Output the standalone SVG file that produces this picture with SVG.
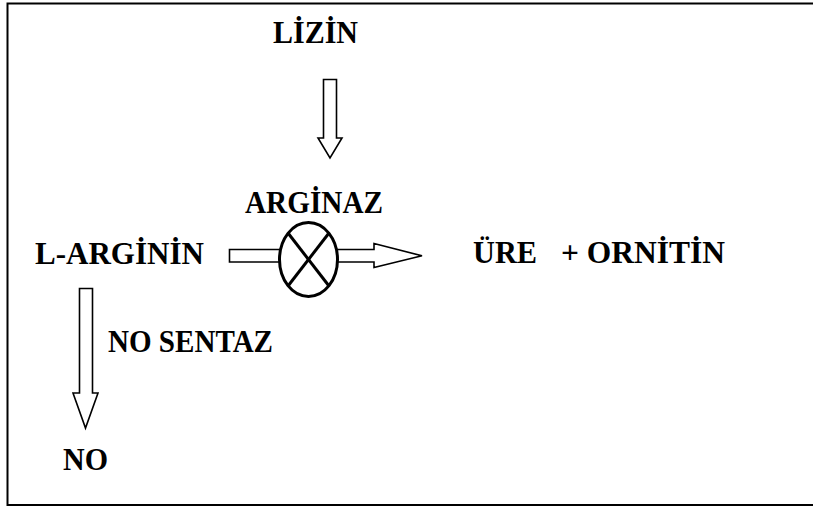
<svg xmlns="http://www.w3.org/2000/svg" width="813" height="508" viewBox="0 0 813 508">
  <style>
    .lbl { font-family: "Liberation Serif", "Times New Roman", serif; font-weight: bold; font-size: 32px; fill: #000; }
    .arrow { fill: #fff; stroke: #000; stroke-width: 1.6; stroke-linejoin: miter; }
    .enz { fill: #fff; stroke: #000; stroke-width: 3; }
  </style>
  <rect width="813" height="508" fill="#fff"/>
  <!-- frame, open past the right edge -->
  <path d="M900,3.5 H7.5 V505 H900" fill="none" stroke="#000" stroke-width="2"/>

  <g id="connectors">
    <!-- lysine down to arginase -->
    <path class="arrow" d="M323.5,79.5 H336.5 V138 H342 L330,158 L318,138 H323.5 Z"/>
    <!-- L-arginine to NO -->
    <path class="arrow" d="M79.5,288.5 H92.5 V393 H98 L85.5,428 L73,393 H79.5 Z"/>
    <!-- L-arginine into arginase -->
    <path class="arrow" d="M229.5,249.5 H282 V262 H229.5 Z"/>
    <!-- arginase out to products -->
    <path class="arrow" d="M335,249.5 H374 V243.5 L422,255.8 L374,267.5 V262 H335 Z"/>
  </g>

  <g id="arginaz">
    <ellipse class="enz" cx="308.5" cy="259.5" rx="29" ry="37"/>
    <line x1="288" y1="233" x2="329" y2="286" stroke="#000" stroke-width="3"/>
    <line x1="329" y1="233" x2="288" y2="286" stroke="#000" stroke-width="3"/>
    <text class="lbl" x="245" y="213" textLength="138" lengthAdjust="spacingAndGlyphs">ARGİNAZ</text>
  </g>

  <g id="lizin">
    <text class="lbl" x="273" y="43" textLength="85" lengthAdjust="spacingAndGlyphs">LİZİN</text>
  </g>

  <g id="l-arginin">
    <text class="lbl" x="35" y="264" textLength="169" lengthAdjust="spacingAndGlyphs">L-ARGİNİN</text>
  </g>

  <g id="ure-ornitin">
    <text class="lbl" x="473" y="263" textLength="64" lengthAdjust="spacingAndGlyphs">ÜRE</text>
    <text class="lbl" x="561" y="263" textLength="164" lengthAdjust="spacingAndGlyphs">+ ORNİTİN</text>
  </g>

  <g id="no-sentaz">
    <text class="lbl" x="108" y="352" textLength="165" lengthAdjust="spacingAndGlyphs">NO SENTAZ</text>
  </g>

  <g id="no">
    <text class="lbl" x="63" y="470" textLength="45" lengthAdjust="spacingAndGlyphs">NO</text>
  </g>
</svg>
